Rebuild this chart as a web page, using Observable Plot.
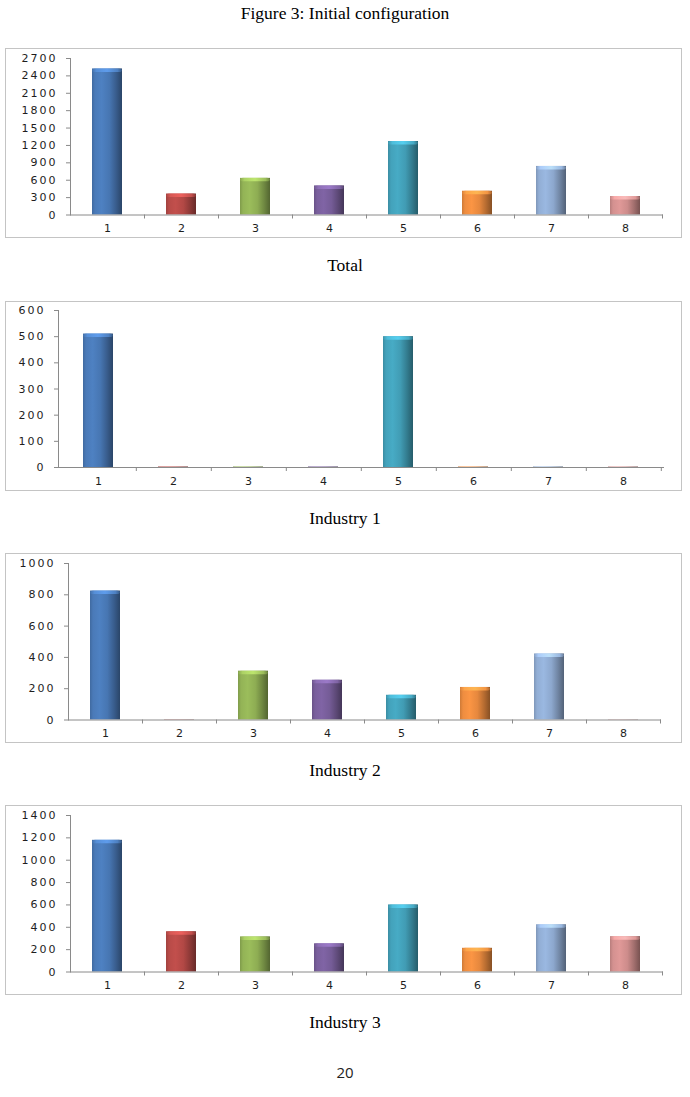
<!DOCTYPE html>
<html><head><meta charset="utf-8">
<script src="https://cdn.jsdelivr.net/npm/d3@7"></script>
<script src="https://cdn.jsdelivr.net/npm/@observablehq/plot@0.6"></script>
<style>
body{margin:0;background:#fff;width:690px;height:1097px;position:relative;overflow:hidden}
.cap{position:absolute;left:0;width:690px;text-align:center;font-family:"Liberation Serif","Times New Roman",serif;font-size:17.5px;color:#000;line-height:1;white-space:nowrap}
.pg{position:absolute;left:0;width:690px;text-align:center;font-family:"Open Sans","Liberation Sans",sans-serif;font-size:15px;color:#222;line-height:1}
.box{position:absolute;left:5px;width:675px;height:188px;border:1px solid #c4c4c4;}
.box svg{display:block}
.box svg text{letter-spacing:2px;font-family:"DejaVu Sans",Verdana,sans-serif !important;font-size:11px !important}
</style></head><body>
<div class="cap" style="top:4.8px">Figure 3: Initial configuration</div>
<div class="box" id="c1" style="top:48px"></div>
<div class="cap" style="top:257px">Total</div>
<div class="box" id="c2" style="top:301px"></div>
<div class="cap" style="top:510px">Industry 1</div>
<div class="box" id="c3" style="top:553px"></div>
<div class="cap" style="top:762px">Industry 2</div>
<div class="box" id="c4" style="top:805px"></div>
<div class="cap" style="top:1014px">Industry 3</div>
<div class="pg" style="top:1065px">20</div>
<script>
const categories = ["1", "2", "3", "4", "5", "6", "7", "8"];
const barColors = ["#4a7ab8", "#b84b48", "#93b356", "#795f9c", "#43a2bb", "#ee8d40", "#92aed5", "#d49190"];

const totalValues = [2520, 362, 632, 502, 1268, 410, 838, 318];
const industry1Values = [510, 2, 2, 2, 500, 2, 2, 2];
const industry2Values = [824, 2, 312, 254, 158, 208, 422, 2];
const industry3Values = [1178, 360, 314, 252, 600, 212, 422, 316];

const totalTicks = [0, 300, 600, 900, 1200, 1500, 1800, 2100, 2400, 2700];
const industry1Ticks = [0, 100, 200, 300, 400, 500, 600];
const industry2Ticks = [0, 200, 400, 600, 800, 1000];
const industry3Ticks = [0, 200, 400, 600, 800, 1000, 1200, 1400];

const NS = "http://www.w3.org/2000/svg";
const axisColor = "#8a8a8a";
const labelColor = "#1e1e1e";

function addStops(g, stops) {
  for (const [o, col] of stops) {
    const s = document.createElementNS(NS, "stop");
    s.setAttribute("offset", o);
    s.setAttribute("stop-color", col.formatHex());
    g.appendChild(s);
  }
}

function makeGradients(svg, id) {
  const defs = document.createElementNS(NS, "defs");
  barColors.forEach((c, i) => {
    const base = d3.color(c);
    const g = document.createElementNS(NS, "linearGradient");
    g.setAttribute("id", `${id}-g${i}`);
    g.setAttribute("x1", "0"); g.setAttribute("x2", "1");
    g.setAttribute("y1", "0"); g.setAttribute("y2", "0");
    addStops(g, [
      [0, base.darker(0.4)],
      [0.1, base],
      [0.32, base.brighter(0.15)],
      [0.58, base.darker(0.1)],
      [0.8, base.darker(0.75)],
      [1, base.darker(1.6)]
    ]);
    defs.appendChild(g);
    const cg = document.createElementNS(NS, "linearGradient");
    cg.setAttribute("id", `${id}-cap${i}`);
    cg.setAttribute("x1", "0"); cg.setAttribute("x2", "1");
    cg.setAttribute("y1", "0"); cg.setAttribute("y2", "0");
    addStops(cg, [
      [0, base.darker(0.2)],
      [0.15, base.brighter(0.5)],
      [0.5, base.brighter(0.8)],
      [0.85, base.brighter(0.3)],
      [1, base.darker(0.8)]
    ]);
    defs.appendChild(cg);
  });
  svg.insertBefore(defs, svg.firstChild);
  svg.querySelectorAll("rect").forEach(r => {
    const f = (r.getAttribute("fill") || "").toLowerCase();
    const i = barColors.indexOf(f);
    if (i < 0) return;
    r.setAttribute("fill", `url(#${id}-g${i})`);
    const h = +r.getAttribute("height");
    if (h > 6) {
      const cap = document.createElementNS(NS, "rect");
      cap.setAttribute("x", r.getAttribute("x"));
      cap.setAttribute("y", r.getAttribute("y"));
      cap.setAttribute("width", r.getAttribute("width"));
      cap.setAttribute("height", 3.5);
      cap.setAttribute("rx", 3);
      cap.setAttribute("fill", `url(#${id}-cap${i})`);
      cap.setAttribute("opacity", 0.85);
      r.parentNode.insertBefore(cap, r.nextSibling);
    }
  });
}

function chart(id, values, ticks, mL, mR, mT, mB) {
  const W = 675, H = 188;
  const data = categories.map((c, i) => ({cat: c, value: values[i], color: barColors[i]}));
  const step = (W - mL - mR) / categories.length;
  const svg = Plot.plot({
    width: W, height: H,
    marginLeft: mL, marginRight: mR, marginTop: mT, marginBottom: mB,
    style: {fontFamily: "'DejaVu Sans', Verdana, sans-serif", fontSize: "11px", background: "transparent", overflow: "visible"},
    x: {type: "band", domain: categories, paddingInner: 0.6, paddingOuter: 0.3},
    y: {domain: [0, ticks[ticks.length - 1]]},
    color: {type: "identity"},
    marks: [
      Plot.barY(data, {x: "cat", y: "value", fill: "color"}),
      Plot.frame({anchor: "left", stroke: axisColor}),
      Plot.frame({anchor: "bottom", stroke: axisColor}),
      Plot.axisY({ticks: ticks, tickFormat: d => String(d), tickSize: 4, tickPadding: 9, stroke: axisColor, fill: labelColor, label: null}),
      Plot.axisX({tickSize: 4, tickFormat: () => "", dx: step / 2, stroke: axisColor, label: null}),
      Plot.axisX({tickSize: 0, tickPadding: 9.5, fill: labelColor, label: null, dx: 1})
    ]
  });
  makeGradients(svg, id);
  document.getElementById(id).appendChild(svg);
}

chart("c1", totalValues, totalTicks, 64, 19, 9, 22.5);
chart("c2", industry1Values, industry1Ticks, 52, 18, 8, 23);
chart("c3", industry2Values, industry2Ticks, 62, 21, 9, 22.5);
chart("c4", industry3Values, industry3Ticks, 64, 19, 9, 22.5);
</script>
</body></html>
